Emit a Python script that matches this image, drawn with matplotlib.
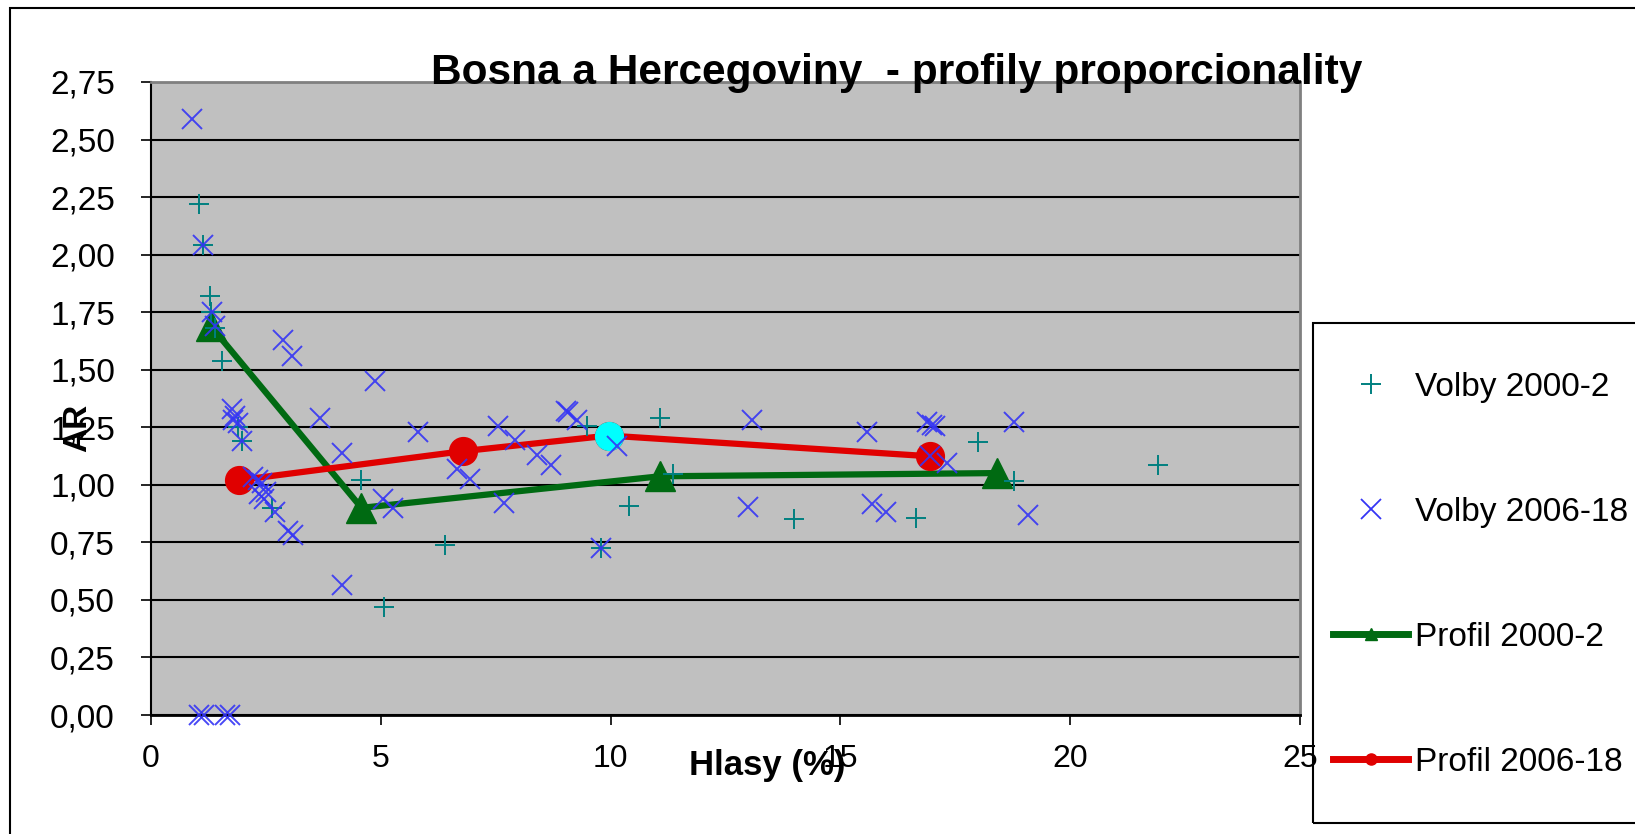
import matplotlib
matplotlib.use('Agg')
import matplotlib.pyplot as plt
import matplotlib.ticker as ticker
from matplotlib.lines import Line2D
from matplotlib.patches import Rectangle

plt.rcParams['font.family'] = ['Liberation Sans', 'DejaVu Sans']

# --- data ---
title = "Bosna a Hercegoviny  - profily proporcionality"

# Volby 2000-2 (teal +)
v2000_x = [1.04, 1.13, 1.28, 1.31, 1.39, 1.55, 1.89, 1.98, 2.63, 4.58, 5.08,
           6.40, 9.48, 9.80, 10.41, 11.07, 11.35, 14.00, 16.65, 17.99, 18.78, 21.90]
v2000_y = [2.22, 2.04, 1.82, 1.75, 1.68, 1.54, 1.25, 1.19, 0.90, 1.02, 0.47,
           0.74, 1.255, 0.725, 0.91, 1.29, 1.045, 0.85, 0.857, 1.187, 1.015, 1.088]

# Volby 2006-18 (blue x)
v2006_x = [0.90, 1.13, 1.33, 1.39, 2.87, 3.06, 1.76, 1.83, 1.89, 1.78, 1.98,
           2.22, 2.33, 2.41, 2.35, 2.45, 2.50, 2.70, 2.98, 3.09, 3.67, 4.15,
           4.15, 4.87, 5.04, 5.26, 5.81, 6.65, 6.94, 7.55, 7.69, 7.92, 8.39,
           8.71, 9.02, 9.08, 9.26, 9.80, 10.14, 13.07, 13.00, 15.57, 15.68,
           16.00, 16.88, 16.99, 17.06, 16.95, 17.31, 18.78, 19.08,
           1.05, 1.15, 1.62, 1.72]
v2006_y = [2.59, 2.04, 1.75, 1.69, 1.63, 1.56, 1.33, 1.30, 1.27, 1.28, 1.19,
           1.034, 1.02, 1.008, 0.96, 0.94, 0.97, 0.88, 0.80, 0.78, 1.29, 1.14,
           0.566, 1.45, 0.94, 0.90, 1.23, 1.07, 1.024, 1.255, 0.92, 1.196, 1.13,
           1.087, 1.32, 1.315, 1.28, 0.725, 1.167, 1.28, 0.905, 1.228, 0.915,
           0.884, 1.273, 1.26, 1.255, 1.125, 1.096, 1.273, 0.87,
           0.0, 0.0, 0.0, 0.0]

# Profil lines
prof2000_x = [1.30, 4.58, 11.07, 18.40]
prof2000_y = [1.69, 0.90, 1.037, 1.051]
prof2006_x = [1.91, 6.78, 9.96, 16.95]
prof2006_y = [1.02, 1.146, 1.214, 1.124]
highlight_idx = 2  # the cyan point on the 2006-18 profile

legend_labels = ["Volby 2000-2", "Volby 2006-18", "Profil 2000-2", "Profil 2006-18"]

TEAL = '#008080'
BLUE = '#3535F5'
GREEN = '#006A12'
RED = '#E00000'

W, H = 1635, 834
fig = plt.figure(figsize=(W / 100, H / 100), dpi=100)
fig.patch.set_facecolor('white')

# outer chart border (only top and left visible)
fig.patches.append(Rectangle((10 / W, -0.1), 1.2, 1 - 8 / H + 0.1, transform=fig.transFigure,
                             fill=False, edgecolor='black', lw=1.5))

ax = fig.add_axes([151 / W, 1 - 715 / H, (1300 - 151) / W, (715 - 82) / H])
ax.set_facecolor('#C0C0C0')

# profiles
ax.plot(prof2000_x, prof2000_y, color=GREEN, lw=4.5, marker='^', ms=21, zorder=3)
ax.plot(prof2006_x, prof2006_y, color=RED, lw=4.5, marker='o', ms=20, zorder=3)
ax.plot(prof2006_x[highlight_idx], prof2006_y[highlight_idx], 'o', color='#00FFFF', ms=20, zorder=3.5)

# scatter on top
ax.plot(v2000_x, v2000_y, '+', color=TEAL, ms=15, mew=1.4, zorder=4)
ax.plot(v2006_x, v2006_y, 'x', color=BLUE, ms=14, mew=1.4, zorder=4, alpha=0.9, clip_on=False)

ax.set_xlim(0, 25)
ax.set_ylim(0, 2.75)
ax.set_xticks(range(0, 26, 5))
ax.set_yticks([i * 0.25 for i in range(12)])
ax.yaxis.set_major_formatter(ticker.FuncFormatter(lambda v, p: f"{v:.2f}".replace('.', ',')))
ax.yaxis.grid(True, color='black', lw=1.5)
ax.set_axisbelow(True)
ax.tick_params(axis='both', labelsize=24, direction='out', length=7, width=1.2, color='black')
ax.tick_params(axis='x', labelsize=23, pad=14)
ax.tick_params(axis='y', pad=19)

for side in ('top', 'right'):
    ax.spines[side].set_color('#808080')
    ax.spines[side].set_linewidth(2)
ax.spines['left'].set_linewidth(1.5)
ax.spines['bottom'].set_linewidth(2)

ax.set_xlabel("Hlasy (%)", fontsize=25, fontweight='bold', va='center')
ax.xaxis.set_label_coords(0.536, -0.08)
ax.set_ylabel("AR", fontsize=24, fontweight='bold', va='center', ha='center')
ax.yaxis.set_label_coords(-0.0635, 0.453)
ax.set_title(title, fontsize=30.5, fontweight='bold', x=0.649, y=1.014, va='center', pad=0)

# legend box
fig.patches.append(Rectangle((1313 / W, 1 - 823 / H), 0.3, 500 / H, transform=fig.transFigure,
                             fill=False, edgecolor='black', lw=1.5))
handles = [
    Line2D([], [], ls='none', marker='+', color=TEAL, ms=15, mew=1.4),
    Line2D([], [], ls='none', marker='x', color=BLUE, ms=14, mew=1.3),
    Line2D([], [], color=GREEN, lw=5, marker='^', ms=9),
    Line2D([], [], color=RED, lw=5, marker='o', ms=8),
]
fig.legend(handles, legend_labels, frameon=False, loc='center left',
           bbox_to_anchor=(1333 / W, 1 - 575 / H), borderpad=0, borderaxespad=0,
           fontsize=24, handlelength=2.25, handletextpad=0.2, labelspacing=2.82)

fig.savefig('out.png', dpi=100)
